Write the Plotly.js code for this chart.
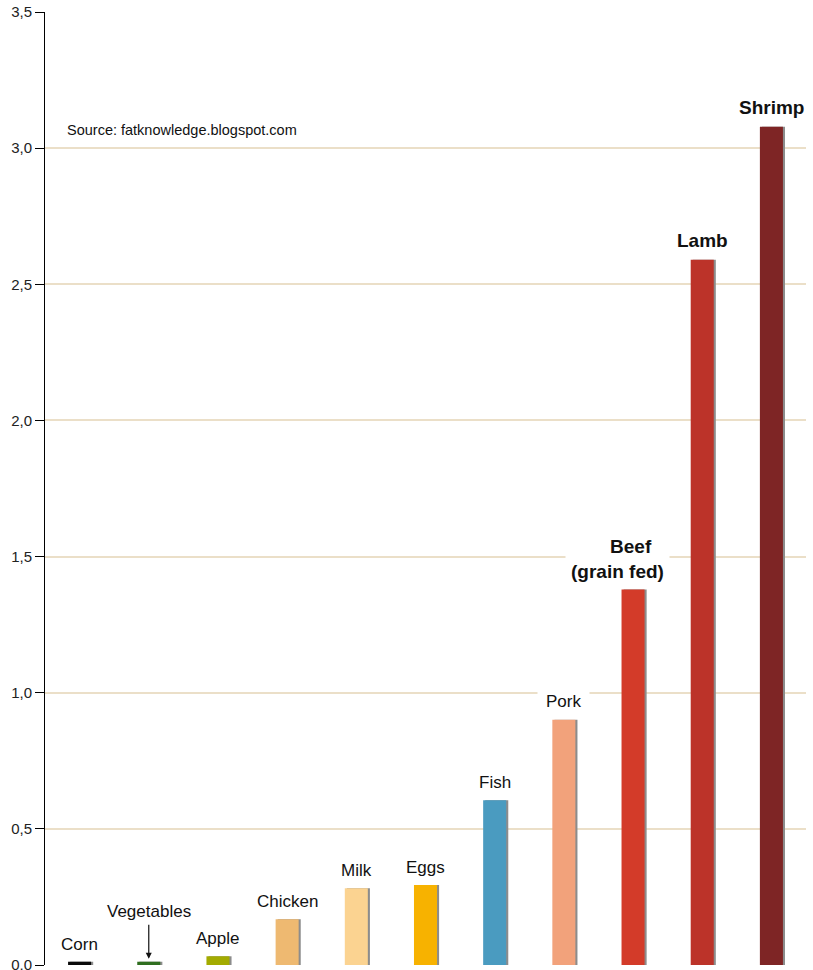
<!DOCTYPE html>
<html>
<head>
<meta charset="utf-8">
<script src="https://cdn.plot.ly/plotly-3.0.1.min.js"></script>
<style>html,body{margin:0;padding:0;background:#fff;}#chart{width:813px;height:970px;}</style>
</head>
<body>
<div id="chart"></div>
<script>
const categories = ["Corn", "Vegetables", "Apple", "Chicken", "Milk", "Eggs", "Fish", "Pork", "Beef", "Lamb", "Shrimp"];
const values = [0.012, 0.012, 0.032, 0.168, 0.282, 0.294, 0.605, 0.902, 1.379, 2.59, 3.079];
const barColors = ["#0a0a0a", "#2f6e1f", "#a3ab00", "#eeb971", "#fbd391", "#f7b200", "#4a9bc0", "#f2a27b", "#d33b29", "#bc3329", "#7e2525"];
const labelTexts = ["Corn", "Vegetables", "Apple", "Chicken", "Milk", "Eggs", "Fish", "Pork", "&nbsp;&nbsp;&nbsp;&nbsp;&nbsp;Beef<br>(grain fed)", "Lamb", "Shrimp"];
const labelBold = [false, false, false, false, false, false, false, false, true, true, true];
const yTicks = [0, 0.5, 1.0, 1.5, 2.0, 2.5, 3.0, 3.5];
const sourceText = "Source: fatknowledge.blogspot.com";

const xIdx = categories.map((c, i) => i);
const barW = 0.333;

const shadow = {
  type: "bar", x: xIdx, y: values, width: barW, offset: -barW/2 + 0.03,
  marker: {color: "#8c8c8c", line: {width: 0}}, hoverinfo: "skip", showlegend: false
};
const bars = {
  type: "bar", x: xIdx, y: values, width: barW, offset: -barW/2,
  marker: {color: barColors, line: {width: 0}}, showlegend: false
};

const annotations = categories.map((c, i) => {
  const bold = labelBold[i];
  const a = {
    x: i, y: values[i], xref: "x", yref: "y",
    text: bold ? "<b>" + labelTexts[i] + "</b>" : labelTexts[i],
    showarrow: false, yanchor: "bottom", yshift: bold ? 4 : 4,
    bgcolor: "#ffffff", borderpad: bold ? 4 : 3,
    font: {family: "Liberation Sans, Arial, sans-serif", size: bold ? 19 : 17, color: "#111"}
  };
  if (c === "Beef") { a.xshift = -16; a.borderpad = 5; a.yshift = 2; }
  if (c === "Pork") { a.borderpad = 8; a.yshift = -1; }
  if (c === "Vegetables") {
    a.showarrow = true; a.ax = 0; a.ay = -50; a.arrowhead = 2; a.arrowsize = 1;
    a.arrowwidth = 1.2; a.arrowcolor = "#111"; a.standoff = 3; a.yanchor = "auto"; a.yshift = 0;
  }
  return a;
});
annotations.push({
  xref: "paper", yref: "paper", x: 0.026, y: 0.876, xanchor: "left", yanchor: "middle",
  text: sourceText, showarrow: false,
  font: {family: "Liberation Sans, Arial, sans-serif", size: 14.5, color: "#111"}
});

const layout = {
  width: 813, height: 970,
  margin: {l: 45, r: 7, t: 12, b: 5},
  paper_bgcolor: "#fff", plot_bgcolor: "#fff",
  barmode: "overlay", separators: ",.",
  xaxis: {range: [-0.5, 10.5], showticklabels: false, showgrid: false, zeroline: false, showline: false, ticks: ""},
  yaxis: {
    range: [0, 3.5], tickvals: yTicks, tickformat: ".1f",
    showgrid: true, gridcolor: "#ebdfc8", gridwidth: 2,
    zeroline: false, showline: true, linecolor: "#000", linewidth: 1,
    ticks: "outside", ticklen: 9, tickcolor: "#000", tickwidth: 1,
    ticklabeloverflow: "allow",
    tickfont: {family: "Liberation Sans, Arial, sans-serif", size: 15, color: "#222"}
  },
  annotations: annotations
};

Plotly.newPlot("chart", [shadow, bars], layout, {displayModeBar: false, staticPlot: true});
</script>
</body>
</html>
